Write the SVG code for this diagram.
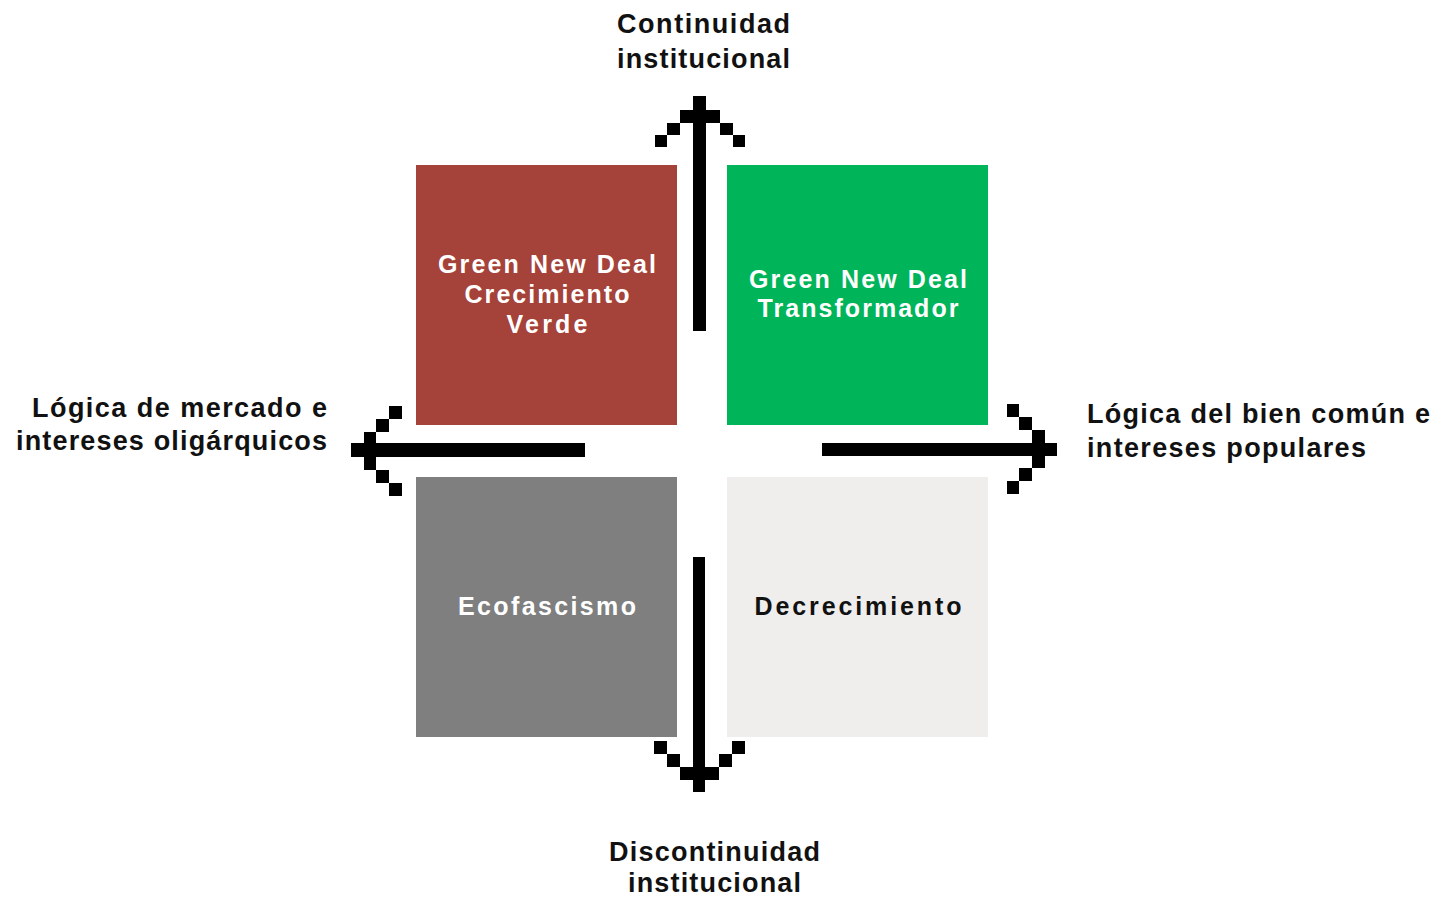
<svg xmlns="http://www.w3.org/2000/svg" width="1437" height="898" viewBox="0 0 1437 898">
<style>
.lbl{font-family:"Liberation Sans",Arial,sans-serif;font-weight:700;font-size:27px;fill:#111}
.box{font-family:"Liberation Sans",Arial,sans-serif;font-weight:700;font-size:25px;text-anchor:middle}
.w{fill:#fff}
.d{fill:#111}
.c{text-anchor:middle}
.r{text-anchor:end}
.a{fill:#000}
</style>
<rect width="1437" height="898" fill="#fff"/>
<g id="node-gnd-crecimiento">
<rect x="416" y="165" width="261" height="260" fill="#A5423A"/>
<text class="box w" x="547" y="273" textLength="218">Green New Deal</text>
<text class="box w" x="547" y="303" textLength="165">Crecimiento</text>
<text class="box w" x="547" y="333" textLength="81">Verde</text>
</g>
<g id="node-gnd-transformador">
<rect x="727" y="165" width="261" height="260" fill="#00B45A"/>
<text class="box w" x="858" y="288" textLength="218">Green New Deal</text>
<text class="box w" x="858" y="317" textLength="201">Transformador</text>
</g>
<g id="node-ecofascismo">
<rect x="416" y="477" width="261" height="260" fill="#7F7F7F"/>
<text class="box w" x="547" y="615" textLength="178">Ecofascismo</text>
</g>
<g id="node-decrecimiento">
<rect x="727" y="477" width="261" height="260" fill="#EFEEEC"/>
<text class="box d" x="858" y="615" textLength="207">Decrecimiento</text>
</g>
<g id="connectors" class="a">
<g id="arrow-up">
<rect x="693" y="96" width="13" height="235"/>
<rect x="680" y="110" width="40" height="13"/>
<rect x="667" y="123" width="13" height="12"/>
<rect x="655" y="135" width="12" height="12"/>
<rect x="720" y="123" width="13" height="12"/>
<rect x="733" y="135" width="12" height="12"/>
</g>
<g id="arrow-down">
<rect x="693" y="557" width="12" height="235"/>
<rect x="680" y="767" width="39" height="13"/>
<rect x="667" y="754" width="13" height="13"/>
<rect x="654" y="741" width="13" height="13"/>
<rect x="719" y="754" width="13" height="13"/>
<rect x="732" y="741" width="13" height="13"/>
</g>
<g id="arrow-left">
<rect x="351" y="443" width="234" height="14"/>
<rect x="364" y="432" width="12" height="38"/>
<rect x="376" y="419" width="13" height="13"/>
<rect x="389" y="406" width="13" height="13"/>
<rect x="376" y="470" width="13" height="13"/>
<rect x="389" y="483" width="13" height="13"/>
</g>
<g id="arrow-right">
<rect x="822" y="443" width="235" height="13"/>
<rect x="1032" y="430" width="13" height="38"/>
<rect x="1019" y="417" width="13" height="13"/>
<rect x="1007" y="404" width="12" height="13"/>
<rect x="1019" y="468" width="13" height="13"/>
<rect x="1007" y="481" width="12" height="13"/>
</g>
</g>
<g id="label-top">
<text class="lbl c" x="703.5" y="33" textLength="173">Continuidad</text>
<text class="lbl c" x="703.5" y="68" textLength="173">institucional</text>
</g>
<g id="label-bottom">
<text class="lbl c" x="714.5" y="861" textLength="211">Discontinuidad</text>
<text class="lbl c" x="714.5" y="892" textLength="173">institucional</text>
</g>
<g id="label-left">
<text class="lbl r" x="327" y="417" textLength="295">Lógica de mercado e</text>
<text class="lbl r" x="327" y="450" textLength="311">intereses oligárquicos</text>
</g>
<g id="label-right">
<text class="lbl" x="1087" y="423" textLength="343">Lógica del bien común e</text>
<text class="lbl" x="1087" y="457" textLength="279">intereses populares</text>
</g>
</svg>
